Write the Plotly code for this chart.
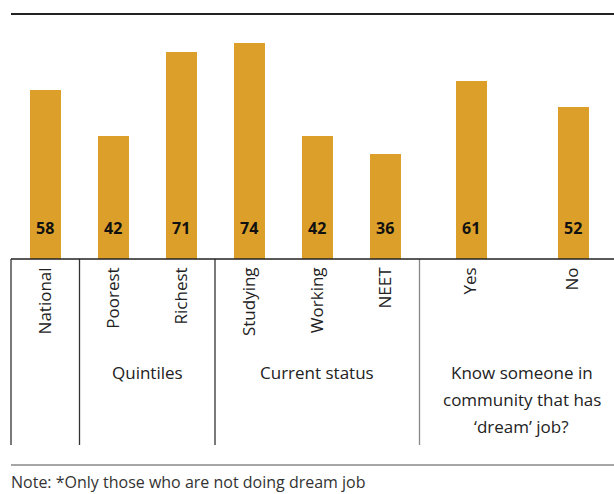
import plotly.graph_objects as go

# ---- data ----
group_names = [
    [],
    ["Quintiles"],
    ["Current status"],
    ["Know someone in", "community that has", "‘dream’ job?"],
]
group_categories = [
    ["National"],
    ["Poorest", "Richest"],
    ["Studying", "Working", "NEET"],
    ["Yes", "No"],
]
group_values = [
    [58],
    [42, 71],
    [74, 42, 36],
    [61, 52],
]
note_text = "Note: *Only those who are not doing dream job"

# ---- style ----
OFF = 0  # page body margin removed in post_script
boundaries_px = [11, 79.5, 215, 419.5, 623.5]  # page pixel x of group edges
W, H = int(round(boundaries_px[-1] - OFF)), 494 - OFF
ML, MR, MT = 11 - OFF, 0, 14 - OFF
PLOT_BOTTOM = 259 - OFF
MB = H - PLOT_BOTTOM
plot_w = W - ML - MR
plot_h = PLOT_BOTTOM - MT
domains = [((boundaries_px[i] - 11) / plot_w, min(1.0, (boundaries_px[i + 1] - 11) / plot_w)) for i in range(4)]
BAR_COLOR = "#DCA02A"
FONT = "Open Sans"
TXT = "#222222"
BAR_PX = 31
PX_PER_UNIT = 2.917


def py(ref_pixel_y):
    """paper y for a reference-page pixel y"""
    return (259 - ref_pixel_y) / plot_h


fig = go.Figure()
annotations = []
shapes = []
layout_axes = {}

for i, (cats, vals) in enumerate(zip(group_categories, group_values)):
    n = i + 1
    xname = "x" if n == 1 else f"x{n}"
    axkey = "xaxis" if n == 1 else f"xaxis{n}"
    d0, d1 = domains[i]
    cat_px = (d1 - d0) * plot_w / len(cats)
    fig.add_trace(go.Bar(
        x=cats, y=vals, xaxis=xname, yaxis="y",
        marker=dict(color=BAR_COLOR, line=dict(width=0)),
        width=BAR_PX / cat_px, showlegend=False, hoverinfo="x+y",
    ))
    layout_axes[axkey] = dict(
        domain=[d0, d1], anchor="y", type="category",
        range=[-0.5, len(cats) - 0.5],
        showgrid=False, zeroline=False, showline=False, ticks="",
        tickangle=-90, ticklabelstandoff=4,
        tickfont=dict(family=FONT, size=17, color=TXT),
        fixedrange=True,
    )
    for c, v in zip(cats, vals):
        annotations.append(dict(
            x=c, y=0, xref=xname, yref="y", yshift=31,
            text=f"<b>{v}</b>", showarrow=False,
            font=dict(family=FONT, size=16, color="#111111"),
        ))
    for k, line in enumerate(group_names[i]):
        annotations.append(dict(
            x=(d0 + d1) / 2, y=py(372 + 27 * k), xref="paper", yref="paper",
            xanchor="center", yanchor="middle", align="center",
            text=line, showarrow=False,
            font=dict(family=FONT, size=17, color=TXT),
        ))
    # vertical separator
    shapes.append(dict(
        type="line", xref="paper", yref="paper",
        x0=d0, x1=d0, y0=0, y1=py(445),
        line=dict(color="#888888" if i == 3 else "#333333", width=1.3),
    ))

# baseline
shapes.append(dict(type="line", xref="paper", yref="paper", x0=0, x1=1, y0=0, y1=0,
                   line=dict(color="#222222", width=1.5)))
# top rule
shapes.append(dict(type="line", xref="paper", yref="paper", x0=0, x1=1, y0=py(14), y1=py(14),
                   line=dict(color="#222222", width=2)))
# bottom rule
shapes.append(dict(type="line", xref="paper", yref="paper", x0=0, x1=1, y0=py(465), y1=py(465),
                   line=dict(color="#888888", width=1.5)))

annotations.append(dict(
    x=0, y=py(482), xref="paper", yref="paper", xanchor="left", yanchor="middle",
    xshift=-2,
    text=note_text, showarrow=False, font=dict(family=FONT, size=16, color="#333333"),
))

fig.update_layout(
    width=W, height=H,
    margin=dict(l=ML, r=MR, t=MT, b=MB),
    paper_bgcolor="white", plot_bgcolor="white",
    yaxis=dict(range=[0, plot_h / PX_PER_UNIT], visible=False, fixedrange=True),
    annotations=annotations, shapes=shapes,
    bargap=0, showlegend=False,
    font=dict(family=FONT),
    **layout_axes,
)

fig.write_html(
    "out.html",
    config={"displayModeBar": False},
    post_script=(
        "document.documentElement.style.overflow='hidden';"
        "document.body.style.overflow='hidden';"
        "document.body.style.margin='0';"
    ),
)
